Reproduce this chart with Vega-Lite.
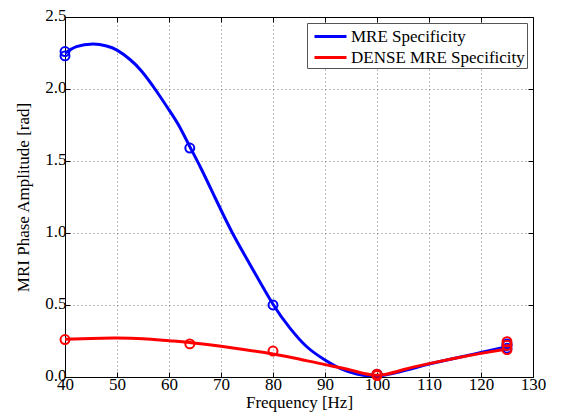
{
  "$schema": "https://vega.github.io/schema/vega-lite/v6.json",
  "width": 468,
  "height": 360,
  "autosize": {"type": "none"},
  "padding": {"left": 65, "top": 17, "right": 30, "bottom": 39},
  "background": "white",
  "config": {
    "font": "Liberation Serif",
    "view": {"stroke": null},
    "style": {
      "guide-label": {"font": "Liberation Serif", "fontSize": 17, "fill": "black"},
      "guide-title": {"font": "Liberation Serif", "fontSize": 17, "fill": "black", "fontWeight": "normal"}
    },
    "axis": {
      "labelFont": "Liberation Serif",
      "titleFont": "Liberation Serif",
      "labelFontSize": 17,
      "titleFontSize": 17,
      "titleFontWeight": "normal",
      "labelColor": "black",
      "titleColor": "black",
      "labelFlush": false,
      "labelOverlap": false,
      "domainColor": "black",
      "domainWidth": 1,
      "tickColor": "black",
      "tickSize": -5,
      "gridColor": "#777777",
      "gridDash": [1, 3],
      "gridWidth": 1,
      "gridOpacity": 1
    },
    "legend": {
      "labelFont": "Liberation Serif",
      "labelFontSize": 17,
      "labelColor": "black",
      "labelLimit": 400
    }
  },
  "datasets": {
    "curves": [
      {"f": 40, "v": 2.248, "s": "MRE Specificity"},
      {"f": 42.2, "v": 2.294, "s": "MRE Specificity"},
      {"f": 45.4, "v": 2.312, "s": "MRE Specificity"},
      {"f": 48, "v": 2.299, "s": "MRE Specificity"},
      {"f": 50, "v": 2.27, "s": "MRE Specificity"},
      {"f": 52.5, "v": 2.205, "s": "MRE Specificity"},
      {"f": 54.7, "v": 2.125, "s": "MRE Specificity"},
      {"f": 57.3, "v": 2.0, "s": "MRE Specificity"},
      {"f": 60, "v": 1.855, "s": "MRE Specificity"},
      {"f": 62, "v": 1.74, "s": "MRE Specificity"},
      {"f": 64, "v": 1.6, "s": "MRE Specificity"},
      {"f": 66, "v": 1.46, "s": "MRE Specificity"},
      {"f": 68.8, "v": 1.25, "s": "MRE Specificity"},
      {"f": 72.2, "v": 1.0, "s": "MRE Specificity"},
      {"f": 75.6, "v": 0.78, "s": "MRE Specificity"},
      {"f": 80, "v": 0.505, "s": "MRE Specificity"},
      {"f": 83.3, "v": 0.338, "s": "MRE Specificity"},
      {"f": 86.5, "v": 0.21, "s": "MRE Specificity"},
      {"f": 90, "v": 0.118, "s": "MRE Specificity"},
      {"f": 92.9, "v": 0.06, "s": "MRE Specificity"},
      {"f": 96.1, "v": 0.02, "s": "MRE Specificity"},
      {"f": 98.7, "v": 0.007, "s": "MRE Specificity"},
      {"f": 101, "v": 0.01, "s": "MRE Specificity"},
      {"f": 104, "v": 0.033, "s": "MRE Specificity"},
      {"f": 107, "v": 0.06, "s": "MRE Specificity"},
      {"f": 110, "v": 0.09, "s": "MRE Specificity"},
      {"f": 115, "v": 0.13, "s": "MRE Specificity"},
      {"f": 120, "v": 0.17, "s": "MRE Specificity"},
      {"f": 125, "v": 0.21, "s": "MRE Specificity"},
      {"f": 40, "v": 0.262, "s": "DENSE MRE Specificity"},
      {"f": 45, "v": 0.268, "s": "DENSE MRE Specificity"},
      {"f": 50, "v": 0.27, "s": "DENSE MRE Specificity"},
      {"f": 55, "v": 0.265, "s": "DENSE MRE Specificity"},
      {"f": 60, "v": 0.252, "s": "DENSE MRE Specificity"},
      {"f": 64, "v": 0.24, "s": "DENSE MRE Specificity"},
      {"f": 70, "v": 0.213, "s": "DENSE MRE Specificity"},
      {"f": 75, "v": 0.188, "s": "DENSE MRE Specificity"},
      {"f": 80, "v": 0.16, "s": "DENSE MRE Specificity"},
      {"f": 85, "v": 0.125, "s": "DENSE MRE Specificity"},
      {"f": 90, "v": 0.086, "s": "DENSE MRE Specificity"},
      {"f": 95, "v": 0.048, "s": "DENSE MRE Specificity"},
      {"f": 100, "v": 0.012, "s": "DENSE MRE Specificity"},
      {"f": 105, "v": 0.05, "s": "DENSE MRE Specificity"},
      {"f": 110, "v": 0.093, "s": "DENSE MRE Specificity"},
      {"f": 115, "v": 0.13, "s": "DENSE MRE Specificity"},
      {"f": 120, "v": 0.164, "s": "DENSE MRE Specificity"},
      {"f": 125, "v": 0.195, "s": "DENSE MRE Specificity"}
    ],
    "markers": [
      {"f": 40, "v": 2.23, "s": "MRE Specificity"},
      {"f": 40, "v": 2.26, "s": "MRE Specificity"},
      {"f": 64, "v": 1.59, "s": "MRE Specificity"},
      {"f": 80, "v": 0.5, "s": "MRE Specificity"},
      {"f": 100, "v": 0.02, "s": "MRE Specificity"},
      {"f": 125, "v": 0.2, "s": "MRE Specificity"},
      {"f": 125, "v": 0.22, "s": "MRE Specificity"},
      {"f": 125, "v": 0.23, "s": "MRE Specificity"},
      {"f": 40, "v": 0.26, "s": "DENSE MRE Specificity"},
      {"f": 64, "v": 0.23, "s": "DENSE MRE Specificity"},
      {"f": 80, "v": 0.18, "s": "DENSE MRE Specificity"},
      {"f": 100, "v": 0.02, "s": "DENSE MRE Specificity"},
      {"f": 100, "v": 0.01, "s": "DENSE MRE Specificity"},
      {"f": 125, "v": 0.19, "s": "DENSE MRE Specificity"},
      {"f": 125, "v": 0.22, "s": "DENSE MRE Specificity"},
      {"f": 125, "v": 0.245, "s": "DENSE MRE Specificity"}
    ]
  },
  "layer": [
    {
      "data": {"name": "markers"},
      "mark": {"type": "point", "opacity": 0},
      "encoding": {
        "x": {"field": "f", "type": "quantitative", "scale": {"domain": [40, 130], "nice": false, "zero": false},
          "axis": {"orient": "top", "labels": false, "grid": false, "title": null, "values": [40, 50, 60, 70, 80, 90, 100, 110, 120, 130]}},
        "y": {"field": "v", "type": "quantitative", "scale": {"domain": [0, 2.5], "nice": false},
          "axis": {"orient": "right", "labels": false, "grid": false, "title": null, "values": [0, 0.5, 1, 1.5, 2, 2.5]}}
      }
    },
    {
      "data": {"name": "curves"},
      "mark": {"type": "line", "strokeWidth": 3, "interpolate": "natural", "clip": true},
      "encoding": {
        "x": {"field": "f", "type": "quantitative", "scale": {"domain": [40, 130], "nice": false, "zero": false},
          "axis": {"orient": "bottom", "title": "Frequency [Hz]", "values": [40, 50, 60, 70, 80, 90, 100, 110, 120, 130], "grid": true, "labelPadding": 4, "titlePadding": 2, "labelFont": "Liberation Serif", "titleFont": "Liberation Serif"}},
        "y": {"field": "v", "type": "quantitative", "scale": {"domain": [0, 2.5], "nice": false},
          "axis": {"orient": "left", "title": "MRI Phase Amplitude [rad]", "values": [0, 0.5, 1, 1.5, 2, 2.5], "grid": true, "labelPadding": 4, "labelOffset": -2, "titlePadding": 12, "labelFont": "Liberation Serif", "titleFont": "Liberation Serif"}},
        "color": {"field": "s", "type": "nominal",
          "scale": {"domain": ["MRE Specificity", "DENSE MRE Specificity"], "range": ["#0000ff", "#ff0000"]},
          "legend": {"title": null, "orient": "none", "legendX": 242, "legendY": 6, "symbolType": "M-1.6,0H1.6", "symbolSize": 400, "symbolStrokeWidth": 3, "symbolOffset": 10, "strokeColor": "#555555", "fillColor": "white", "padding": 2, "rowPadding": 1, "labelOffset": 9}},
        "order": {"field": "s", "sort": "descending"}
      }
    },
    {
      "data": {"name": "markers"},
      "mark": {"type": "point", "filled": false, "size": 80, "strokeWidth": 2, "opacity": 1},
      "encoding": {
        "x": {"field": "f", "type": "quantitative", "axis": null},
        "y": {"field": "v", "type": "quantitative", "axis": null},
        "color": {"field": "s", "type": "nominal", "legend": null}
      }
    }
  ],
  "resolve": {"axis": {"x": "independent", "y": "independent"}}
}
